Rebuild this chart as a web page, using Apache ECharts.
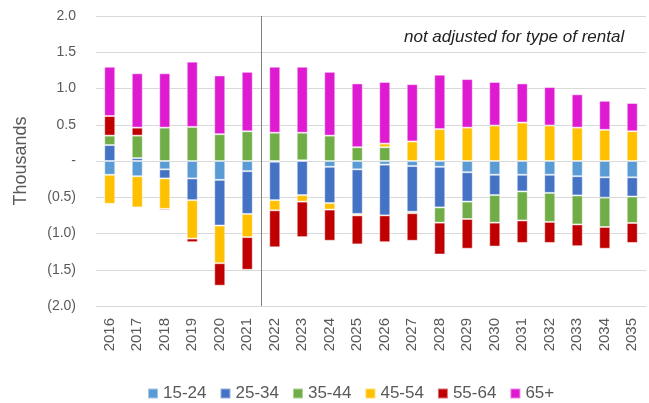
<!DOCTYPE html>
<html><head><meta charset="utf-8">
<script src="https://cdn.jsdelivr.net/npm/echarts@6/dist/echarts.min.js"></script>
<style>html,body{margin:0;padding:0;background:#fff}#c{width:649px;height:403px}</style>
</head><body><div id="c"></div>
<script>
const years = ['2016','2017','2018','2019','2020','2021','2022','2023','2024','2025','2026','2027','2028','2029','2030','2031','2032','2033','2034','2035'];
const s15_24 = [-0.19,-0.21,-0.115,-0.24,-0.26,-0.14,-0.01,0.01,-0.08,-0.115,-0.05,-0.07,-0.08,-0.155,-0.19,-0.19,-0.19,-0.21,-0.225,-0.225];
const s25_34 = [0.22,0.04,-0.125,-0.30,-0.63,-0.59,-0.53,-0.47,-0.50,-0.615,-0.70,-0.63,-0.56,-0.405,-0.28,-0.23,-0.25,-0.265,-0.28,-0.265];
const s35_44 = [0.13,0.31,0.46,0.47,0.37,0.41,0.39,0.38,0.35,0.19,0.19,-0.02,-0.21,-0.24,-0.38,-0.40,-0.40,-0.40,-0.405,-0.365];
const s45_54 = [-0.40,-0.43,-0.42,-0.53,-0.52,-0.32,-0.14,-0.09,-0.09,-0.02,0.05,0.27,0.44,0.46,0.49,0.53,0.49,0.46,0.43,0.41];
const s55_64 = [0.27,0.11,-0.02,-0.05,-0.31,-0.45,-0.51,-0.49,-0.43,-0.40,-0.37,-0.38,-0.44,-0.41,-0.33,-0.31,-0.29,-0.30,-0.30,-0.275];
const s65 = [0.68,0.75,0.75,0.90,0.81,0.82,0.91,0.91,0.88,0.88,0.85,0.79,0.75,0.67,0.60,0.54,0.53,0.46,0.40,0.39];
const yTicks = [-2.0,-1.5,-1.0,-0.5,0,0.5,1.0,1.5,2.0];
const names = ['15-24','25-34','35-44','45-54','55-64','65+'];
const colors = ['#5B9BD5','#4472C4','#70AD47','#FFC000','#C00000','#DE1BD1'];
const data = [s15_24,s25_34,s35_44,s45_54,s55_64,s65];
// divider between actuals (through 2021) and projections (from 2022)
const dividerBeforeIndex = years.indexOf('2022');

const FONT = 'Liberation Sans, Arial, sans-serif';
const chart = echarts.init(document.getElementById('c'), null, {renderer:'canvas'});
const series = names.map((n,i)=>({
  name:n, type:'bar', stack:'all', barWidth:'40%',
  xAxisIndex:0,
  data:data[i],
  itemStyle:{color:colors[i], borderColor:'rgba(255,255,255,0.45)', borderWidth:1},
  emphasis:{disabled:true}
}));
series.push({
  name:'divider', type:'line', xAxisIndex:1, yAxisIndex:0, data:[], silent:true,
  markLine:{
    silent:true, symbol:'none', label:{show:false},
    lineStyle:{color:'#808080', type:'solid', width:1},
    data:[{xAxis:dividerBeforeIndex}]
  }
});
chart.setOption({
  animation:false,
  grid:{left:96, right:3, top:16, bottom:97},
  legend:{
    top:380, left:142, itemWidth:10, itemHeight:10, itemGap:13,
    icon:'rect',
    textStyle:{color:'#595959', fontSize:17, fontFamily:FONT},
    data:names
  },
  title:{
    text:'not adjusted for type of rental', left:399, top:24,
    textStyle:{fontStyle:'italic', fontWeight:'normal', fontSize:17, color:'#222', fontFamily:FONT}
  },
  xAxis:[{
    type:'category', data:years,
    axisLine:{onZero:false, lineStyle:{color:'#d9d9d9'}},
    axisTick:{show:false},
    axisLabel:{rotate:90, color:'#595959', fontSize:15, margin:12, fontFamily:FONT}
  },{
    type:'value', min:0, max:years.length, show:false
  }],
  yAxis:{
    type:'value', min:yTicks[0], max:yTicks[yTicks.length-1], interval:0.5,
    name:'Thousands', nameLocation:'middle', nameGap:66, nameRotate:90,
    nameTextStyle:{color:'#595959', fontSize:18, fontFamily:FONT},
    axisLine:{show:false}, axisTick:{show:false},
    splitLine:{lineStyle:{color:'#d9d9d9'}},
    axisLabel:{color:'#595959', fontSize:14, margin:20, fontFamily:FONT,
      formatter:v=>{ if (Math.abs(v)<1e-9) return '-'; const s=Math.abs(v).toFixed(1); return v<0?'('+s+')':s; }}
  },
  series:series
});
</script></body></html>
